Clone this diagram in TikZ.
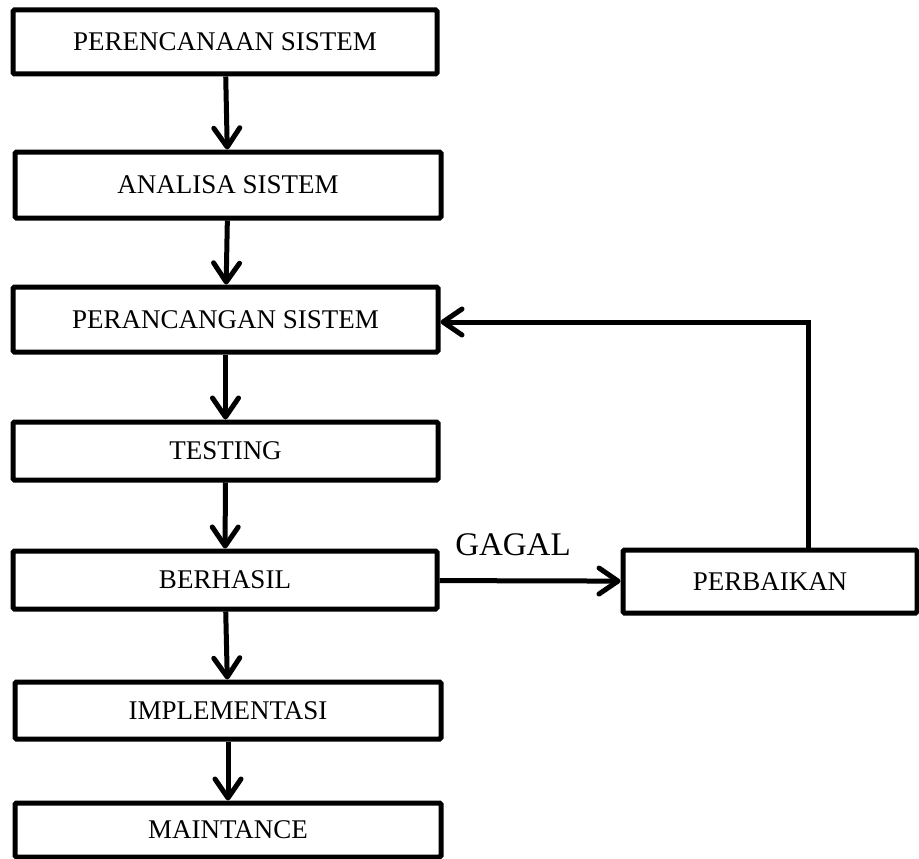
\documentclass[tikz,border=0pt]{standalone}
\usepackage{fontspec}
\setmainfont{Liberation Serif}
\usetikzlibrary{arrows.meta, positioning}
\tikzset{>={Straight Barb[length=19pt,width=26pt,line cap=round,line join=round]}}

\begin{document}
\begin{tikzpicture}[>={Straight Barb[length=19pt,width=26pt,line cap=round,line join=round]}, x=1pt, y=-1pt, line width=5pt,
	kotak/.style={draw, rectangle, rounded corners=1.5pt, inner sep=0pt, font=\fontsize{27}{30}\selectfont}]
		\useasboundingbox (0,0) rectangle (919,859);
		\node[kotak, minimum width=424pt, minimum height=64pt] (rencana) at (225,42) {PERENCANAAN SISTEM};
		\node[kotak, minimum width=426pt, minimum height=66pt] (analisa) at (228,185) {ANALISA SISTEM};
		\node[kotak, minimum width=425pt, minimum height=65pt] (rancang) at (225.5,319.5) {PERANCANGAN SISTEM};
		\node[kotak, minimum width=425pt, minimum height=58pt] (testing) at (225.5,451) {TESTING};
		\node[kotak, minimum width=424pt, minimum height=58pt] (berhasil) at (225,580) {BERHASIL};
		\node[kotak, minimum width=426pt, minimum height=57pt] (implementasi) at (228,710.5) {IMPLEMENTASI};
		\node[kotak, minimum width=426pt, minimum height=54pt] (maintance) at (228,830) {MAINTANCE};
		\node[kotak, minimum width=294pt, minimum height=63pt] (perbaikan) at (770,581.5) {PERBAIKAN};
		\draw [->](rencana) -- (analisa); \draw [->](analisa) -- (rancang);
		\draw [->](rancang) -- (testing); \draw [->](testing) -- (berhasil);
		\draw [->](berhasil) -- (implementasi); \draw [->](implementasi) -- (maintance);
		\draw [->](berhasil) -- (perbaikan);
		\node[font=\fontsize{33}{36}\selectfont] (gagal) at (513,545) {GAGAL};
		%jalur perbaikan kembali ke perancangan
		\coordinate (belok) at (808,322);
		\draw [->](perbaikan.north -| belok) -- (belok) -- (rancang.east |- belok);
\end{tikzpicture}
\end{document}
